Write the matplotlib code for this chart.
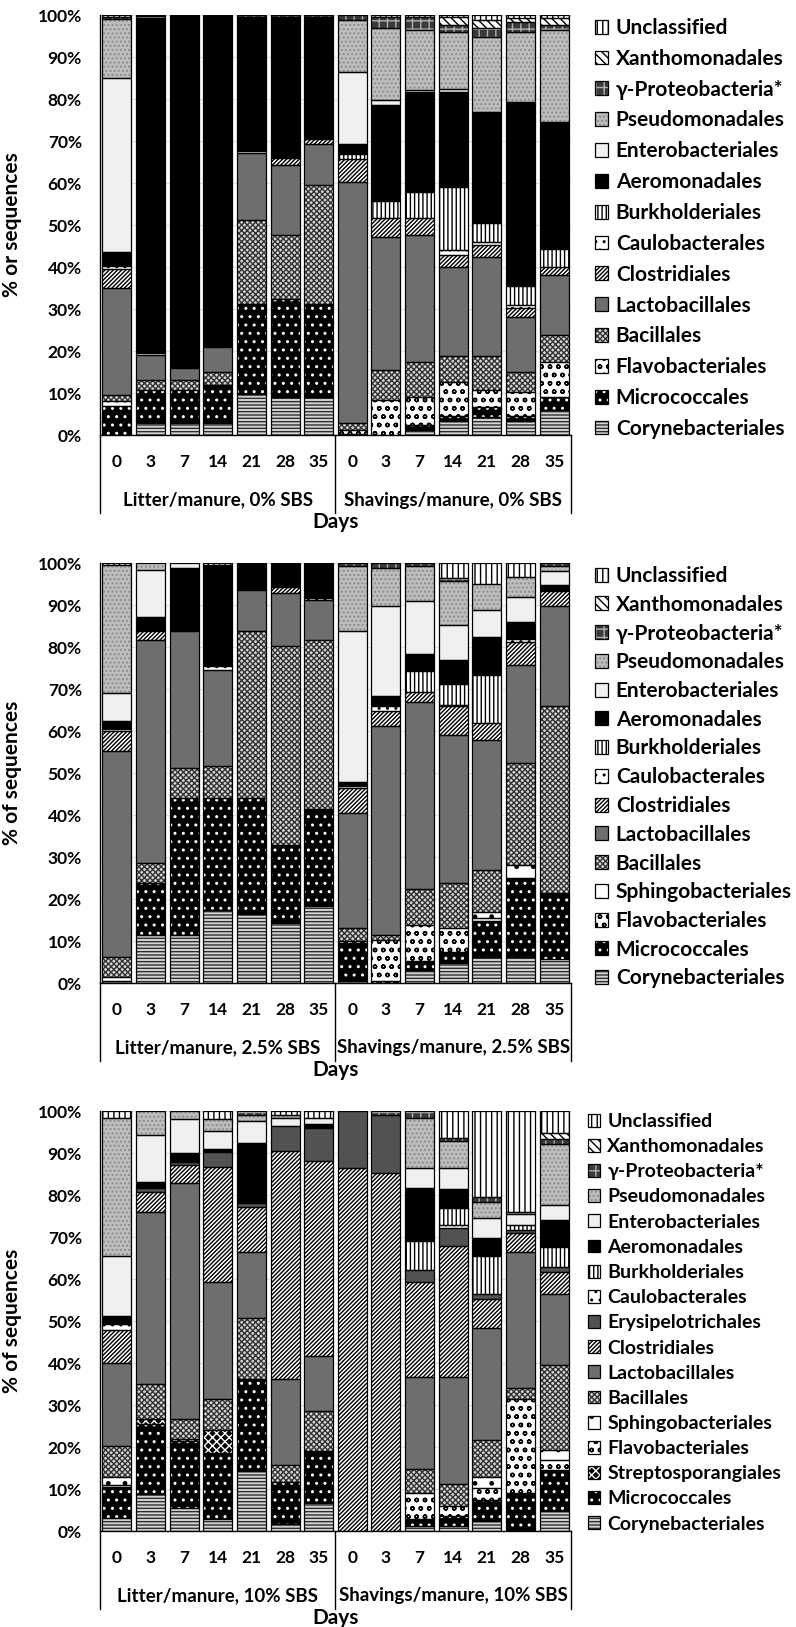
import numpy as np
import matplotlib
matplotlib.use('Agg')
import matplotlib.pyplot as plt
from matplotlib.patches import Patch
from matplotlib.lines import Line2D
import matplotlib.transforms as mtransforms

plt.rcParams['font.family'] = ['Lato', 'DejaVu Sans']
plt.rcParams['font.weight'] = 'bold'
plt.rcParams['hatch.linewidth'] = 1.0

# ---------------- data ----------------
DAYS = ['0', '3', '7', '14', '21', '28', '35']
GROUPS_P1 = ['Litter/manure, 0% SBS', 'Shavings/manure, 0% SBS']
GROUPS_P2 = ['Litter/manure, 2.5% SBS', 'Shavings/manure, 2.5% SBS']
GROUPS_P3 = ['Litter/manure, 10% SBS', 'Shavings/manure, 10% SBS']
YLABEL_P1 = '% or sequences'
YLABEL_P2 = '% of sequences'
YLABEL_P3 = '% of sequences'

# Panel 1 (0% SBS): litter days 0..35, then shavings days 0..35
P1_CORYNEBACTERIALES = [0, 2.8, 2.8, 2.8, 9.7, 9.1, 9.1, 0.3, 0, 1.2, 3.4, 4.4, 3.4, 6.0]
P1_MICROCOCCALES = [7.0, 7.9, 7.9, 9.1, 21.6, 23.4, 22.2, 0, 0, 1.2, 1.1, 2.2, 1.1, 3.1]
P1_FLAVOBACTERIALES = [1.0, 0, 0, 0, 0, 0, 0, 0.8, 8.3, 6.7, 8.2, 4.1, 5.8, 8.4]
P1_BACILLALES = [1.5, 2.4, 2.4, 3.2, 19.9, 15.1, 28.2, 1.7, 7.2, 8.4, 6.0, 8.0, 4.8, 6.3]
P1_LACTOBACILLALES = [25.5, 6.0, 2.8, 5.9, 15.9, 16.7, 9.9, 57.5, 31.7, 30.1, 21.4, 23.8, 13.1, 14.3]
P1_CLOSTRIDIALES = [4.5, 0, 0, 0, 0, 1.6, 1.0, 5.3, 4.4, 4.0, 2.8, 2.7, 2.0, 2.0]
P1_CAULOBACTERALES = [0.8, 0.4, 0, 0, 0.5, 0, 0, 0, 0, 0, 1.1, 0.8, 0.8, 0]
P1_BURKHOLDERIALES = [0, 0, 0, 0, 0, 0, 0, 1.2, 4.0, 6.3, 15.1, 4.4, 4.5, 4.3]
P1_AEROMONADALES = [3.2, 79.5, 84.1, 79.0, 32.0, 33.7, 29.2, 2.6, 23.0, 23.8, 22.6, 26.6, 43.5, 30.2]
P1_ENTEROBACTERIALES = [41.6, 0.4, 0, 0, 0, 0, 0, 17.1, 1.2, 0.4, 0.8, 0, 0.4, 0]
P1_PSEUDOMONADALES = [14.0, 0.4, 0, 0, 0, 0, 0, 12.3, 17.0, 14.3, 13.5, 17.8, 16.6, 21.8]
P1_GAMMAPROTEOBACTERIA = [0.5, 0, 0, 0, 0.4, 0.4, 0.4, 1.2, 2.8, 3.2, 1.6, 2.0, 2.4, 1.2]
P1_XANTHOMONADALES = [0, 0, 0, 0, 0, 0, 0, 0, 0, 0, 2.0, 2.0, 0.8, 1.6]
P1_UNCLASSIFIED = [0.4, 0.2, 0, 0, 0, 0, 0, 0, 0.4, 0.4, 0.4, 1.2, 0.8, 0.8]

# Panel 2 (2.5% SBS)
P2_CORYNEBACTERIALES = [0.5, 11.5, 11.5, 17.5, 16.5, 14.3, 18.4, 0.5, 0, 3.2, 4.8, 6.3, 6.3, 5.6]
P2_MICROCOCCALES = [0, 12.3, 32.5, 26.5, 27.5, 18.6, 23.0, 9.0, 0.4, 2.0, 2.7, 8.4, 18.7, 15.8]
P2_FLAVOBACTERIALES = [1.0, 0, 0, 0, 0, 0, 0, 0.4, 9.9, 8.7, 5.6, 0.8, 0, 0]
P2_SPHINGOBACTERIALES = [0, 0, 0, 0, 0, 0, 0, 0, 0, 0, 0, 1.3, 3.2, 0]
P2_BACILLALES = [4.8, 4.8, 7.2, 7.6, 39.7, 47.3, 40.3, 3.2, 1.2, 8.5, 10.6, 10.2, 24.2, 44.6]
P2_LACTOBACILLALES = [48.9, 53.1, 32.5, 23.0, 9.8, 12.7, 9.4, 27.4, 49.6, 44.4, 35.4, 30.8, 23.4, 23.8]
P2_CLOSTRIDIALES = [4.7, 2.0, 0, 0, 0, 1.4, 0, 5.9, 3.6, 2.6, 6.8, 4.1, 5.5, 3.5]
P2_CAULOBACTERALES = [0.6, 0, 0.4, 0.8, 0.3, 0, 0.6, 0.4, 1.2, 0, 0.4, 0, 0.6, 0]
P2_BURKHOLDERIALES = [0, 0, 0, 0, 0, 0, 0, 0, 0, 4.8, 5.0, 11.5, 0, 0]
P2_AEROMONADALES = [2.0, 3.4, 14.7, 24.2, 6.2, 5.7, 8.3, 1.1, 2.4, 4.2, 5.5, 9.0, 4.0, 1.5]
P2_ENTEROBACTERIALES = [6.5, 11.3, 1.2, 0, 0, 0, 0, 35.8, 21.5, 12.5, 8.5, 6.5, 6.0, 3.2]
P2_PSEUDOMONADALES = [30.6, 1.6, 0, 0, 0, 0, 0, 15.5, 9.0, 8.3, 10.3, 6.2, 4.8, 1.2]
P2_GAMMAPROTEOBACTERIA = [0, 0, 0, 0, 0, 0, 0, 0.8, 1.2, 0.8, 0.8, 0, 0, 0.8]
P2_XANTHOMONADALES = [0, 0, 0, 0, 0, 0, 0, 0, 0, 0, 0, 0, 0, 0]
P2_UNCLASSIFIED = [0.4, 0, 0, 0.4, 0, 0, 0, 0, 0, 0, 3.6, 4.9, 3.3, 0]

# Panel 3 (10% SBS)
P3_CORYNEBACTERIALES = [3.0, 8.8, 5.4, 2.8, 14.2, 1.7, 6.7, 0, 0, 1.3, 1.3, 2.4, 0, 4.7]
P3_MICROCOCCALES = [7.5, 16.6, 16.0, 15.7, 22.0, 9.9, 12.3, 0, 0, 1.5, 2.3, 4.9, 9.1, 9.8]
P3_STREPTOSPORANGIALES = [0, 1.3, 0.6, 5.6, 0, 0, 0, 0, 0, 0, 0, 0, 0, 0]
P3_FLAVOBACTERIALES = [0.4, 0, 0, 0, 0, 0, 0, 0, 0, 6.3, 2.3, 3.0, 22.4, 2.3]
P3_SPHINGOBACTERIALES = [2.0, 0, 0, 0, 0, 0, 0, 0, 0, 0, 0, 2.5, 0, 2.6]
P3_BACILLALES = [7.4, 8.2, 4.6, 7.4, 14.5, 4.1, 9.6, 0, 0, 5.7, 5.3, 8.9, 2.6, 20.1]
P3_LACTOBACILLALES = [19.8, 41.1, 56.3, 27.8, 15.7, 20.5, 13.0, 0, 0, 21.8, 25.4, 26.6, 32.3, 17.0]
P3_CLOSTRIDIALES = [7.7, 4.6, 4.2, 27.3, 10.8, 54.3, 46.5, 86.5, 85.2, 22.7, 31.3, 6.9, 4.5, 5.1]
P3_ERYSIPELOTRICHALES = [0, 1.1, 0.7, 3.7, 1.0, 5.9, 7.8, 13.5, 13.8, 2.9, 4.3, 1.3, 0.7, 1.3]
P3_CAULOBACTERALES = [1.5, 0, 0, 0, 0, 0, 0, 0, 0, 0, 0.6, 0, 0, 0]
P3_BURKHOLDERIALES = [0, 0, 0, 0, 0, 0, 0, 0, 0, 6.9, 4.1, 9.0, 1.2, 4.8]
P3_AEROMONADALES = [2.0, 1.5, 2.3, 0.6, 14.2, 0, 1.1, 0, 0, 12.6, 4.6, 4.2, 0, 6.4]
P3_ENTEROBACTERIALES = [14.2, 11.2, 7.9, 4.4, 5.2, 1.9, 1.4, 0, 0, 4.7, 4.9, 4.9, 2.6, 3.5]
P3_PSEUDOMONADALES = [32.9, 5.6, 2.0, 2.8, 1.4, 0.8, 0, 0, 0, 11.9, 6.5, 3.8, 0.6, 14.6]
P3_GAMMAPROTEOBACTERIA = [0, 0, 0, 0, 1.0, 0, 0, 0, 1.0, 1.7, 0.6, 1.1, 0, 1.1]
P3_XANTHOMONADALES = [0, 0, 0, 0, 0, 0, 0, 0, 0, 0, 0, 0, 0, 1.5]
P3_UNCLASSIFIED = [1.6, 0, 0, 1.9, 0, 0.9, 1.6, 0, 0, 0, 6.5, 20.5, 24.0, 5.2]

# ---------------- styles (facecolor, hatch, hatch colour) ----------------
STYLES = {
    'Corynebacteriales': ('#d4d4d4', '-----', '#2e2e2e'),
    'Micrococcales': ('#000000', '..', '#ffffff'),
    'Streptosporangiales': ('#000000', 'xxxx', '#ffffff'),
    'Flavobacteriales': ('#ffffff', 'oo', '#000000'),
    'Sphingobacteriales': ('#ffffff', '.', '#000000'),
    'Bacillales': ('#d6d6d6', 'xxxxxx', '#333333'),
    'Lactobacillales': ('#6e6e6e', None, '#6e6e6e'),
    'Clostridiales': ('#ffffff', '////////', '#000000'),
    'Erysipelotrichales': ('#525252', None, '#525252'),
    'Caulobacterales': ('#ffffff', '..', '#000000'),
    'Burkholderiales': ('#ffffff', '||||', '#000000'),
    'Aeromonadales': ('#000000', None, '#000000'),
    'Enterobacteriales': ('#f0f0f0', None, '#f0f0f0'),
    'Pseudomonadales': ('#bdbdbd', '....', '#8c8c8c'),
    'γ-Proteobacteria*': ('#3a3a3a', '++', '#b0b0b0'),
    'Xanthomonadales': ('#ffffff', '\\\\\\\\', '#000000'),
    'Unclassified': ('#ffffff', '|||', '#000000'),
}

PANEL1 = [
    ('Corynebacteriales', P1_CORYNEBACTERIALES),
    ('Micrococcales', P1_MICROCOCCALES),
    ('Flavobacteriales', P1_FLAVOBACTERIALES),
    ('Bacillales', P1_BACILLALES),
    ('Lactobacillales', P1_LACTOBACILLALES),
    ('Clostridiales', P1_CLOSTRIDIALES),
    ('Caulobacterales', P1_CAULOBACTERALES),
    ('Burkholderiales', P1_BURKHOLDERIALES),
    ('Aeromonadales', P1_AEROMONADALES),
    ('Enterobacteriales', P1_ENTEROBACTERIALES),
    ('Pseudomonadales', P1_PSEUDOMONADALES),
    ('γ-Proteobacteria*', P1_GAMMAPROTEOBACTERIA),
    ('Xanthomonadales', P1_XANTHOMONADALES),
    ('Unclassified', P1_UNCLASSIFIED),
]
PANEL2 = [
    ('Corynebacteriales', P2_CORYNEBACTERIALES),
    ('Micrococcales', P2_MICROCOCCALES),
    ('Flavobacteriales', P2_FLAVOBACTERIALES),
    ('Sphingobacteriales', P2_SPHINGOBACTERIALES),
    ('Bacillales', P2_BACILLALES),
    ('Lactobacillales', P2_LACTOBACILLALES),
    ('Clostridiales', P2_CLOSTRIDIALES),
    ('Caulobacterales', P2_CAULOBACTERALES),
    ('Burkholderiales', P2_BURKHOLDERIALES),
    ('Aeromonadales', P2_AEROMONADALES),
    ('Enterobacteriales', P2_ENTEROBACTERIALES),
    ('Pseudomonadales', P2_PSEUDOMONADALES),
    ('γ-Proteobacteria*', P2_GAMMAPROTEOBACTERIA),
    ('Xanthomonadales', P2_XANTHOMONADALES),
    ('Unclassified', P2_UNCLASSIFIED),
]
PANEL3 = [
    ('Corynebacteriales', P3_CORYNEBACTERIALES),
    ('Micrococcales', P3_MICROCOCCALES),
    ('Streptosporangiales', P3_STREPTOSPORANGIALES),
    ('Flavobacteriales', P3_FLAVOBACTERIALES),
    ('Sphingobacteriales', P3_SPHINGOBACTERIALES),
    ('Bacillales', P3_BACILLALES),
    ('Lactobacillales', P3_LACTOBACILLALES),
    ('Clostridiales', P3_CLOSTRIDIALES),
    ('Erysipelotrichales', P3_ERYSIPELOTRICHALES),
    ('Caulobacterales', P3_CAULOBACTERALES),
    ('Burkholderiales', P3_BURKHOLDERIALES),
    ('Aeromonadales', P3_AEROMONADALES),
    ('Enterobacteriales', P3_ENTEROBACTERIALES),
    ('Pseudomonadales', P3_PSEUDOMONADALES),
    ('γ-Proteobacteria*', P3_GAMMAPROTEOBACTERIA),
    ('Xanthomonadales', P3_XANTHOMONADALES),
    ('Unclassified', P3_UNCLASSIFIED),
]

# ---------------- figure ----------------
W, H = 796, 1627
fig = plt.figure(figsize=(W / 100, H / 100), dpi=100)

AX_LEFT, AX_RIGHT = 100, 571
AX_H = 420


def draw_panel(top_px, series, groups, ylabel, leg_x, leg_fs, leg_space, leg_top):
    ax = fig.add_axes([AX_LEFT / W, 1 - (top_px + AX_H) / H,
                       (AX_RIGHT - AX_LEFT) / W, AX_H / H])
    n = len(series[0][1])
    x = np.arange(n)
    bottom = np.zeros(n)
    handles, labels = [], []
    for name, vals in series:
        v = np.asarray(vals, dtype=float)
        fc, hatch, hc = STYLES[name]
        m = v > 0
        if m.any():
            ax.bar(x[m], v[m], bottom=bottom[m], width=0.86, color=fc,
                   edgecolor=hc, hatch=hatch, linewidth=0, zorder=2)
            ax.bar(x[m], v[m], bottom=bottom[m], width=0.86, fill=False,
                   edgecolor='black', linewidth=0.9, zorder=3)
        bottom += v
        handles.append((Patch(facecolor=fc, edgecolor=hc, hatch=hatch, linewidth=0),
                        Patch(fill=False, edgecolor='black', linewidth=0.9)))
        labels.append(name)

    ax.set_xlim(-0.5, n - 0.5)
    ax.set_ylim(0, 100)
    ax.set_yticks(np.arange(0, 101, 10))
    ax.set_yticklabels([f'{t}%' for t in range(0, 101, 10)], fontsize=12.5,
                       fontweight='bold')
    ax.tick_params(axis='y', length=0, pad=13)
    ax.set_xticks([])
    ax.yaxis.grid(True, color='#e2e2e2', linewidth=0.8)
    ax.set_axisbelow(True)
    for s in ('top', 'right'):
        ax.spines[s].set_visible(False)
    for s in ('left', 'bottom'):
        ax.spines[s].set_linewidth(1.0)
        ax.spines[s].set_color('black')

    ax.set_ylabel(ylabel, fontsize=15, fontweight='bold')
    ax.yaxis.set_label_coords((22 - AX_LEFT) / (AX_RIGHT - AX_LEFT), 0.5)

    trans = mtransforms.blended_transform_factory(ax.transData, ax.transAxes)
    half = n // 2
    for xv in (-0.5, half - 0.5, n - 0.5):
        ax.add_line(Line2D([xv, xv], [0, -78 / AX_H], transform=trans,
                           color='black', linewidth=1.0, clip_on=False))
    for i in range(n):
        ax.text(i, -27 / AX_H, DAYS[i % half], transform=trans, ha='center',
                va='center', fontsize=12.5, fontweight='bold')
    ax.text((half - 1) / 2, -65 / AX_H, groups[0], transform=trans,
            ha='center', va='center', fontsize=13.5, fontweight='bold')
    ax.text(half + (half - 1) / 2, -65 / AX_H, groups[1], transform=trans,
            ha='center', va='center', fontsize=13.5, fontweight='bold')
    ax.text(half - 0.5, -87 / AX_H, 'Days', transform=trans, ha='center',
            va='center', fontsize=15, fontweight='bold')

    ax.legend(handles[::-1], labels[::-1], loc='upper left',
              bbox_to_anchor=(leg_x / W, 1 - leg_top / H),
              bbox_transform=fig.transFigure, frameon=False,
              prop={'size': leg_fs, 'weight': 'bold'},
              handlelength=0.6, handleheight=0.65, handletextpad=0.4,
              labelspacing=leg_space, borderpad=0, borderaxespad=0)
    return ax


draw_panel(15, PANEL1, GROUPS_P1, YLABEL_P1, 595, 15, 0.52, 18)
draw_panel(563, PANEL2, GROUPS_P2, YLABEL_P2, 595, 15, 0.42, 566)
draw_panel(1111, PANEL3, GROUPS_P3, YLABEL_P3, 588, 14, 0.42, 1113)

fig.savefig('out.png', dpi=100)
